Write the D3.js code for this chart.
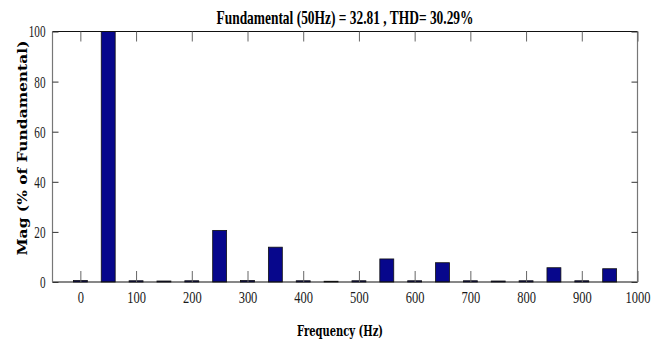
<!DOCTYPE html>
<html>
<head>
<meta charset="utf-8">
<script src="https://cdn.jsdelivr.net/npm/d3@7"></script>
<style>
  body { margin: 0; background: #fff; }
  svg { display: block; }
</style>
</head>
<body>
<svg id="chart"></svg>
<script>
// harmonic spectrum values
const freqs = [0, 50, 100, 150, 200, 250, 300, 350, 400, 450,
               500, 550, 600, 650, 700, 750, 800, 850, 900, 950];
const mags = [0.6, 100, 0.5, 0.4, 0.5, 20.6, 0.6, 13.9, 0.5, 0.3,
              0.5, 9.2, 0.5, 7.7, 0.5, 0.4, 0.5, 5.7, 0.5, 5.3];
const xTicks = [0, 100, 200, 300, 400, 500, 600, 700, 800, 900, 1000];
const yTicks = [0, 20, 40, 60, 80, 100];

const titleText = "Fundamental (50Hz) = 32.81 , THD= 30.29%";
const xLabel = "Frequency (Hz)";
const yLabel = "Mag (% of Fundamental)";

const W = 652, H = 340;
const margin = { top: 31.5, right: 14.5, bottom: 58, left: 52.5 };
const width = W - margin.left - margin.right;
const height = H - margin.top - margin.bottom;

const root = d3.select("#chart").attr("width", W).attr("height", H);
root.append("rect").attr("width", W).attr("height", H).attr("fill", "#fff");

const svg = root.append("g")
  .attr("transform", `translate(${margin.left},${margin.top})`);

const x = d3.scaleLinear().domain([-50, 1000]).range([0, width]);
const y = d3.scaleLinear().domain([0, 100]).range([height, 0]);

const barW = x(25) - x(0);

// bars
svg.selectAll(".bar")
  .data(freqs)
  .enter()
  .append("rect")
  .attr("class", "bar")
  .attr("x", (d) => x(d) - barW / 2)
  .attr("y", (d, i) => y(mags[i]))
  .attr("width", barW)
  .attr("height", (d, i) => y(0) - y(mags[i]))
  .attr("fill", "#07078c")
  .attr("stroke", "#111")
  .attr("stroke-width", 0.8);

// frame: dark top/bottom, grey sides
svg.append("line").attr("x1", 0).attr("x2", width).attr("y1", 0).attr("y2", 0)
  .attr("stroke", "#111").attr("stroke-width", 1.2);
svg.append("line").attr("x1", 0).attr("x2", width).attr("y1", height).attr("y2", height)
  .attr("stroke", "#111").attr("stroke-width", 1.2);
svg.append("line").attr("x1", 0).attr("x2", 0).attr("y1", 0).attr("y2", height)
  .attr("stroke", "#777").attr("stroke-width", 1.2);
svg.append("line").attr("x1", width).attr("x2", width).attr("y1", 0).attr("y2", height)
  .attr("stroke", "#777").attr("stroke-width", 1.2);

const tickFont = "'Liberation Serif', 'DejaVu Serif', serif";

// bottom axis, inward ticks
const xSx = 0.78;
const xAxis = svg.append("g")
  .attr("transform", `translate(0,${height})`)
  .call(d3.axisBottom(x).tickValues(xTicks).tickFormat(d3.format("d"))
    .tickSizeInner(-11).tickSizeOuter(0).tickPadding(0));
xAxis.select(".domain").remove();
xAxis.selectAll(".tick line").attr("stroke", "#666");
xAxis.selectAll(".tick text")
  .attr("y", 21)
  .attr("dy", 0)
  .attr("transform", `scale(${xSx},1)`)
  .style("font-family", tickFont)
  .style("font-size", "16px")
  .attr("fill", "#1a1a1a");

// top ticks
const xTop = svg.append("g")
  .call(d3.axisTop(x).tickValues(xTicks).tickSizeInner(-10).tickSizeOuter(0).tickFormat(""));
xTop.select(".domain").remove();
xTop.selectAll(".tick line").attr("stroke", "#666");

// left axis
const ySx = 0.7;
const yAxis = svg.append("g")
  .call(d3.axisLeft(y).tickValues(yTicks).tickSizeInner(-6).tickSizeOuter(0).tickPadding(0));
yAxis.select(".domain").remove();
yAxis.selectAll(".tick line").attr("stroke", "#333");
yAxis.selectAll(".tick text")
  .attr("x", -7 / ySx)
  .attr("dy", "0.34em")
  .attr("transform", `scale(${ySx},1)`)
  .style("font-family", tickFont)
  .style("font-size", "16px")
  .attr("fill", "#1a1a1a");

// right ticks
const yRight = svg.append("g")
  .attr("transform", `translate(${width},0)`)
  .call(d3.axisRight(y).tickValues(yTicks).tickSizeInner(-6).tickSizeOuter(0).tickFormat(""));
yRight.select(".domain").remove();
yRight.selectAll(".tick line").attr("stroke", "#333");

// title
svg.append("text")
  .attr("x", width / 2)
  .attr("y", -7.5)
  .attr("text-anchor", "middle")
  .attr("textLength", 257)
  .attr("lengthAdjust", "spacingAndGlyphs")
  .style("font-family", tickFont)
  .style("font-weight", "bold")
  .style("font-size", "19px")
  .text(titleText);

// x label
svg.append("text")
  .attr("x", 340 - margin.left)
  .attr("y", 336 - margin.top)
  .attr("text-anchor", "middle")
  .attr("textLength", 86)
  .attr("lengthAdjust", "spacingAndGlyphs")
  .style("font-family", "'DejaVu Serif', serif")
  .style("font-weight", "bold")
  .style("font-size", "15px")
  .text(xLabel);

// y label
svg.append("text")
  .attr("transform", `translate(${27 - margin.left},${148 - margin.top}) rotate(-90)`)
  .attr("text-anchor", "middle")
  .attr("textLength", 215)
  .attr("lengthAdjust", "spacingAndGlyphs")
  .style("font-family", "'DejaVu Serif', serif")
  .style("font-weight", "bold")
  .style("font-size", "13px")
  .text(yLabel);
</script>
</body>
</html>
